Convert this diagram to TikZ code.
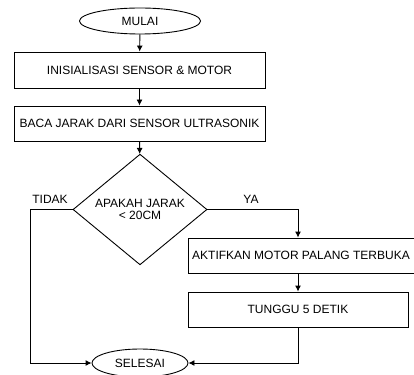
\documentclass[tikz,border=0pt]{standalone}
\usepackage{fontspec}
\setmainfont{Liberation Sans}
\usetikzlibrary{shapes.geometric,arrows.meta}
\begin{document}
\begin{tikzpicture}[x=1pt,y=-1pt,
  every node/.style={font=\fontsize{12}{13.5}\selectfont, text=black},
  proc/.style={draw, rectangle, inner sep=0pt, line width=0.9pt},
  term/.style={draw, ellipse, inner sep=0pt, line width=0.9pt},
  dec/.style={draw, diamond, inner sep=0pt, line width=0.9pt, align=center},
  lbl/.style={inner sep=0pt},
  arr/.style={line width=0.9pt, -{Latex[length=6pt,width=6pt]}},
  ln/.style={line width=0.9pt}]
\useasboundingbox (0,0) rectangle (414,374);
\node[term, minimum width=121pt, minimum height=26pt] (mulai) at (140,21) {MULAI};
\node[proc, minimum width=251pt, minimum height=36pt] (init) at (139.5,70) {INISIALISASI SENSOR \& MOTOR};
\node[proc, minimum width=251pt, minimum height=35pt] (baca) at (139.5,123.5) {BACA JARAK DARI SENSOR ULTRASONIK};
\node[dec, minimum width=134pt, minimum height=93pt] (dec) at (140,209.5) {APAKAH JARAK\\[-1pt]< 20CM};
\node[proc, minimum width=226pt, minimum height=35pt] (akt) at (301,255.5) {AKTIFKAN MOTOR PALANG TERBUKA};
\node[proc, minimum width=220pt, minimum height=35pt] (tung) at (298,309.5) {TUNGGU 5 DETIK};
\node[term, minimum width=96pt, minimum height=28pt] (sel) at (140,363) {SELESAI};
\node[lbl] (tidak) at (50,199) {TIDAK};
\node[lbl] (ya) at (251,199) {YA};
\coordinate (L) at (30,209.5);
\coordinate (R) at (298,209.5);
\draw[arr] (mulai) -- (init);
\draw[arr] (init) -- (baca);
\draw[arr] (baca) -- (dec);
\draw[arr] (dec.west) -- (L) |- (sel.west);
\draw[arr] (dec.east) -- (R) -- (R |- akt.north);
\draw[arr] (R |- akt.south) -- (tung.north);
\draw[arr] (tung.south) |- (sel.east);
\end{tikzpicture}
\end{document}
